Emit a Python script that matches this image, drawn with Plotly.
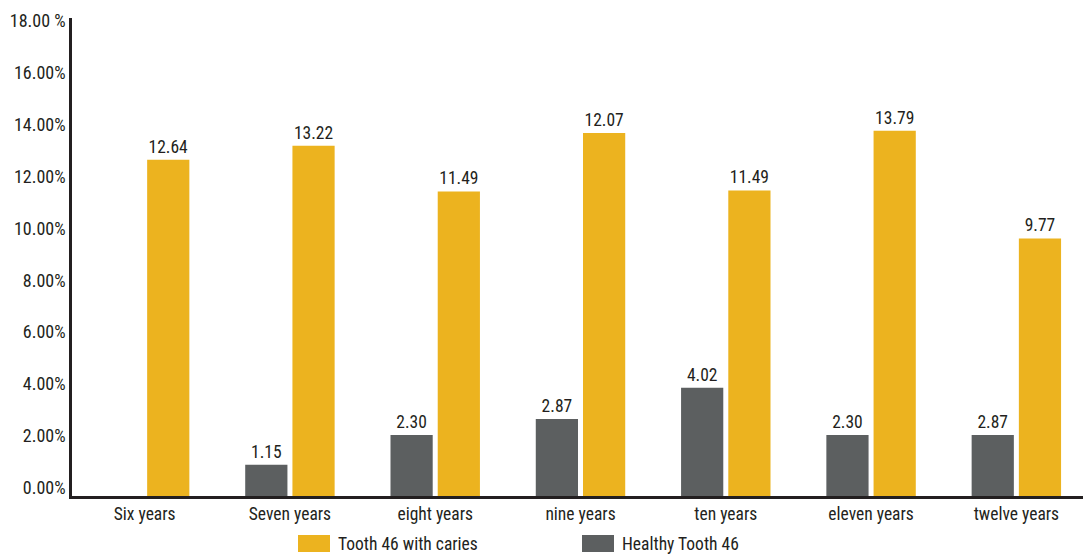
import plotly.graph_objects as go

# ---- data ----
categories = ["Six years", "Seven years", "eight years", "nine years",
              "ten years", "eleven years", "twelve years"]
caries_values = [12.64, 13.18, 11.42, 13.67, 11.46, 13.76, 9.61]
caries_labels = ["12.64", "13.22", "11.49", "12.07", "11.49", "13.79", "9.77"]
healthy_values = [None, 0.89, 2.04, 2.66, 3.86, 2.04, 2.04]
healthy_labels = ["", "1.15", "2.30", "2.87", "4.02", "2.30", "2.87"]
tick_values = [0, 2, 4, 6, 8, 10, 12, 14, 16, 18]
tick_labels = ["0.00%", "2.00%", "4.00%", "6.00%", "8.00%", "10.00%",
               "12.00%", "14.00%", "16.00%", "18.00 %"]
legend_names = ["Tooth 46 with caries", "Healthy Tooth 46"]

# ---- style ----
FONT = "Roboto Condensed, Liberation Sans Narrow, sans-serif"
ORANGE = "#ECB31F"
GREY = "#5C5F60"
TXT = "#231F20"
FLOOR = -0.31  # bars reach down to the drawn axis line

PAGE_OFF = 8               # default body margin of the html page
W, H = 1091 - PAGE_OFF, 554 - PAGE_OFF
ML, MR, MT, MB = 72 - PAGE_OFF, 2, 18 - PAGE_OFF, 58
PX0, PX1 = 72, 1089        # plot area in page pixels
PY0, PY1 = 18, 496

fig = go.Figure()
fig.add_trace(go.Bar(
    x=categories,
    y=[None if v is None else v - FLOOR for v in healthy_values],
    base=FLOOR,
    text=healthy_labels, texttemplate="%{text}", textposition="outside",
    constraintext="none",
    textfont=dict(family=FONT, size=17.5, color=TXT),
    marker=dict(color=GREY, line=dict(width=0)),
    name=legend_names[1], showlegend=False, cliponaxis=False,
))
fig.add_trace(go.Bar(
    x=categories,
    y=[v - FLOOR for v in caries_values],
    base=FLOOR,
    text=caries_labels, texttemplate="%{text}", textposition="outside",
    constraintext="none",
    textfont=dict(family=FONT, size=17.5, color=TXT),
    marker=dict(color=ORANGE, line=dict(width=0)),
    name=legend_names[0], showlegend=False, cliponaxis=False,
))

fig.update_layout(
    width=W, height=H,
    margin=dict(l=ML, r=MR, t=MT, b=MB, pad=0),
    paper_bgcolor="white", plot_bgcolor="white",
    barmode="group", bargap=0.35, bargroupgap=0.106,
    font=dict(family=FONT, size=18, color=TXT),
    xaxis=dict(
        automargin=False, range=[-0.5, 6.5],
        showline=True, linecolor=TXT, linewidth=2.5,
        showgrid=False, ticks="", zeroline=False,
        tickfont=dict(family=FONT, size=17.5, color=TXT),
    ),
    yaxis=dict(
        automargin=False, range=[FLOOR, 18.1],
        showline=True, linecolor=TXT, linewidth=2.5,
        showgrid=False, zeroline=False, ticks="",
        tickvals=tick_values, ticktext=tick_labels,
        tickfont=dict(family=FONT, size=18, color=TXT),
    ),
)

# ---- manual legend (wide swatches as in the reference) ----
def px_x(p):
    return (p - PX0) / (PX1 - PX0)

def px_y(p):
    return (PY1 - p) / (PY1 - PY0)

for label, color, x0 in [(legend_names[0], ORANGE, 298), (legend_names[1], GREY, 582)]:
    fig.add_shape(type="rect", xref="paper", yref="paper",
                  x0=px_x(x0), x1=px_x(x0 + 32), y0=px_y(552), y1=px_y(535),
                  fillcolor=color, line=dict(width=0), layer="above")
    fig.add_annotation(xref="paper", yref="paper", x=px_x(x0 + 38), y=px_y(543.5),
                       text=label, showarrow=False, xanchor="left", yanchor="middle",
                       font=dict(family=FONT, size=17.5, color=TXT))

fig.write_html("out.html")
